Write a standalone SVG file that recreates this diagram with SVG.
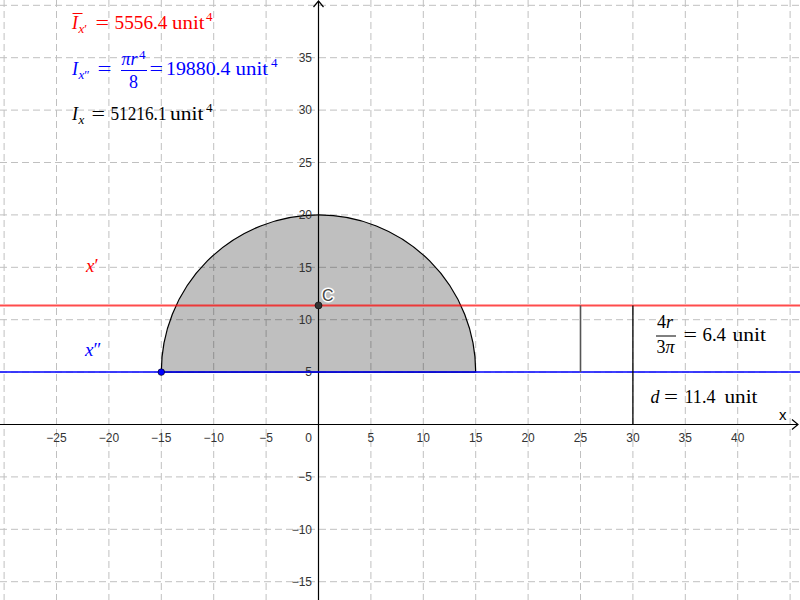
<svg xmlns="http://www.w3.org/2000/svg" width="800" height="600" viewBox="0 0 800 600">
<style>
.grid line{stroke:#c0c0c0;stroke-width:1;stroke-dasharray:7,4}
.axis{stroke:#000;stroke-width:1.2;fill:none}
.tick{font-family:"Liberation Sans",Arial,sans-serif;font-size:12px;fill:#333}
.tx{text-anchor:middle}
.ty{text-anchor:end}
.m text{font-family:"Liberation Serif","DejaVu Serif",serif;font-size:18px}
.m .i{font-style:italic}
.m .s{font-size:13px}
</style>
<rect width="800" height="600" fill="#fff"/>
<g class="grid" id="grid">
<line x1="4.1" y1="0" x2="4.1" y2="600"/>
<line x1="56.5" y1="0" x2="56.5" y2="600"/>
<line x1="108.9" y1="0" x2="108.9" y2="600"/>
<line x1="161.3" y1="0" x2="161.3" y2="600"/>
<line x1="213.7" y1="0" x2="213.7" y2="600"/>
<line x1="266.1" y1="0" x2="266.1" y2="600"/>
<line x1="370.9" y1="0" x2="370.9" y2="600"/>
<line x1="423.3" y1="0" x2="423.3" y2="600"/>
<line x1="475.7" y1="0" x2="475.7" y2="600"/>
<line x1="528.1" y1="0" x2="528.1" y2="600"/>
<line x1="580.5" y1="0" x2="580.5" y2="600"/>
<line x1="632.9" y1="0" x2="632.9" y2="600"/>
<line x1="685.3" y1="0" x2="685.3" y2="600"/>
<line x1="737.7" y1="0" x2="737.7" y2="600"/>
<line x1="790.1" y1="0" x2="790.1" y2="600"/>
<line x1="0" y1="5.3" x2="800" y2="5.3"/>
<line x1="0" y1="57.7" x2="800" y2="57.7"/>
<line x1="0" y1="110.1" x2="800" y2="110.1"/>
<line x1="0" y1="162.5" x2="800" y2="162.5"/>
<line x1="0" y1="214.9" x2="800" y2="214.9"/>
<line x1="0" y1="267.3" x2="800" y2="267.3"/>
<line x1="0" y1="319.7" x2="800" y2="319.7"/>
<line x1="0" y1="372.1" x2="800" y2="372.1"/>
<line x1="0" y1="476.9" x2="800" y2="476.9"/>
<line x1="0" y1="529.3" x2="800" y2="529.3"/>
<line x1="0" y1="581.7" x2="800" y2="581.7"/>
</g>
<g id="semicircle">
<path d="M161.3 372.1 A157.2 157.2 0 0 1 475.7 372.1 Z" fill="#000" fill-opacity="0.25" stroke="#000" stroke-width="1.2"/>
</g>
<g id="axes">
<line class="axis" x1="0" y1="424.5" x2="798" y2="424.5"/>
<polyline class="axis" points="792,419.5 798,424.5 792,429.5"/>
<line class="axis" x1="318.5" y1="600" x2="318.5" y2="1"/>
<polyline class="axis" points="313.5,7 318.5,1 323.5,7"/>
<text x="779" y="420" font-family="Liberation Sans, Arial, sans-serif" font-size="15" fill="#000">x</text>
</g>
<g id="ticklabels" class="tick">
<text class="tx" x="56.5" y="442">−25</text>
<text class="tx" x="108.9" y="442">−20</text>
<text class="tx" x="161.3" y="442">−15</text>
<text class="tx" x="213.7" y="442">−10</text>
<text class="tx" x="266.1" y="442">−5</text>
<text class="ty" x="312" y="442">0</text>
<text class="tx" x="370.9" y="442">5</text>
<text class="tx" x="423.3" y="442">10</text>
<text class="tx" x="475.7" y="442">15</text>
<text class="tx" x="528.1" y="442">20</text>
<text class="tx" x="580.5" y="442">25</text>
<text class="tx" x="632.9" y="442">30</text>
<text class="tx" x="685.3" y="442">35</text>
<text class="tx" x="737.7" y="442">40</text>
<text class="ty" x="312" y="62">35</text>
<text class="ty" x="312" y="114.4">30</text>
<text class="ty" x="312" y="166.8">25</text>
<text class="ty" x="312" y="219.2">20</text>
<text class="ty" x="312" y="271.6">15</text>
<text class="ty" x="312" y="324">10</text>
<text class="ty" x="312" y="376.4">5</text>
<text class="ty" x="312" y="481.2">−5</text>
<text class="ty" x="312" y="533.6">−10</text>
<text class="ty" x="312" y="586">−15</text>
</g>
<g id="connectors">
<line id="line-xprime" x1="0" y1="305.4" x2="800" y2="305.4" stroke="#ff0000" stroke-opacity="0.7" stroke-width="2"/>
<line id="line-xdoubleprime" x1="0" y1="372.1" x2="800" y2="372.1" stroke="#0000ff" stroke-width="1.5"/>
<line id="seg-4r3pi" x1="580.5" y1="305.4" x2="580.5" y2="372.1" stroke="#555" stroke-width="1.6"/>
<line id="seg-d" x1="632.9" y1="305.4" x2="632.9" y2="424.5" stroke="#000" stroke-width="1.3"/>
</g>
<g id="point-A">
<circle cx="161.3" cy="372.1" r="3.3" fill="#0000ff" stroke="#000" stroke-width="0.6"/>
</g>
<g id="point-C">
<circle cx="318.5" cy="305.4" r="3.5" fill="#333" stroke="#000" stroke-width="0.6"/>
<text x="322" y="300.5" font-family="Liberation Sans, Arial, sans-serif" font-size="16" fill="#444" stroke="#fff" stroke-width="3" paint-order="stroke" stroke-linejoin="round">C</text>
</g>
<g id="label-xprime" class="m" fill="#ff0000">
<text x="86" y="272" style="font-size:19px"><tspan class="i">x</tspan>′</text>
</g>
<g id="label-xdoubleprime" class="m" fill="#0000ff">
<text x="85" y="356" style="font-size:19px"><tspan class="i">x</tspan>″</text>
</g>
<g id="formula-Ibar" class="m" fill="#ff0000">
<line x1="72.5" y1="13.5" x2="82.5" y2="13.5" stroke="#ff0000" stroke-width="1"/>
<text x="72" y="28.5" class="i">I</text>
<text x="78.5" y="32.5" class="s"><tspan class="i">x</tspan>′</text>
<text x="95.5" y="28.5" textLength="13.5" lengthAdjust="spacingAndGlyphs">=</text>
<text x="114.5" y="28.5" textLength="53" lengthAdjust="spacingAndGlyphs">5556.4</text>
<text x="172" y="28.5" textLength="32.5" lengthAdjust="spacingAndGlyphs">unit</text>
<text x="206" y="21" class="s">4</text>
</g>
<g id="formula-Ixpp" class="m" fill="#0000ff">
<text x="72" y="74.5" class="i">I</text>
<text x="78.5" y="78.5" class="s"><tspan class="i">x</tspan>″</text>
<text x="97.5" y="74.5" textLength="14" lengthAdjust="spacingAndGlyphs">=</text>
<text x="121.5" y="65" class="i" textLength="16" lengthAdjust="spacingAndGlyphs">πr</text>
<text x="139" y="58.5" class="s">4</text>
<line x1="121" y1="70.5" x2="147" y2="70.5" stroke="#0000ff" stroke-width="1"/>
<text x="129" y="88">8</text>
<text x="149.5" y="74.5" textLength="13.5" lengthAdjust="spacingAndGlyphs">=</text>
<text x="166" y="74.5" textLength="64.5" lengthAdjust="spacingAndGlyphs">19880.4</text>
<text x="235.5" y="74.5" textLength="32.5" lengthAdjust="spacingAndGlyphs">unit</text>
<text x="271" y="66.5" class="s">4</text>
</g>
<g id="formula-Ix" class="m" fill="#000">
<text x="72" y="120" class="i">I</text>
<text x="78.5" y="124" class="s i">x</text>
<text x="91.5" y="120" textLength="13.5" lengthAdjust="spacingAndGlyphs">=</text>
<text x="110.5" y="120" textLength="56" lengthAdjust="spacingAndGlyphs">51216.1</text>
<text x="170" y="120" textLength="33.5" lengthAdjust="spacingAndGlyphs">unit</text>
<text x="206" y="111.5" class="s">4</text>
</g>
<g id="label-4r3pi" class="m" fill="#000">
<text x="657" y="328">4<tspan class="i">r</tspan></text>
<line x1="656" y1="336" x2="676" y2="336" stroke="#000" stroke-width="1"/>
<text x="656.5" y="353">3<tspan class="i">π</tspan></text>
<text x="683.5" y="341" textLength="13.5" lengthAdjust="spacingAndGlyphs">=</text>
<text x="702.5" y="341" textLength="23.5" lengthAdjust="spacingAndGlyphs">6.4</text>
<text x="732.5" y="341" textLength="33.5" lengthAdjust="spacingAndGlyphs">unit</text>
</g>
<g id="label-d" class="m" fill="#000">
<text x="650.5" y="403" class="i">d</text>
<text x="664" y="403" textLength="14" lengthAdjust="spacingAndGlyphs">=</text>
<text x="684.5" y="403" textLength="31" lengthAdjust="spacingAndGlyphs">11.4</text>
<text x="724.5" y="403" textLength="33" lengthAdjust="spacingAndGlyphs">unit</text>
</g>
</svg>
